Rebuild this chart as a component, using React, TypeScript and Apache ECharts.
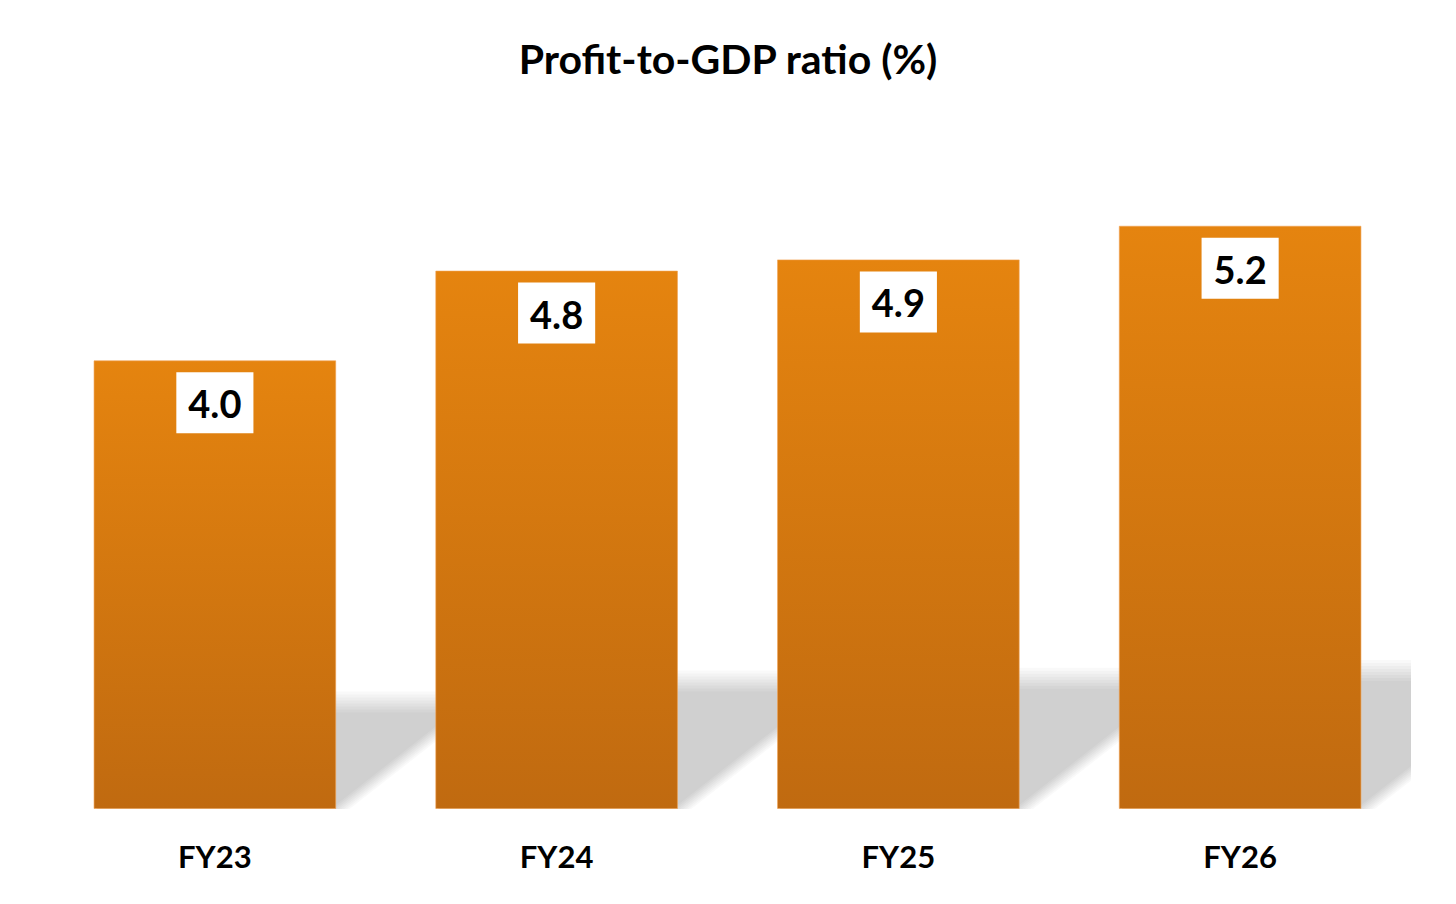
import React, { useEffect, useRef } from 'react';
import * as echarts from 'echarts';

const categories = ['FY23', 'FY24', 'FY25', 'FY26'];
const ratios = [4.0, 4.8, 4.9, 5.2];

const FONT = 'Lato, "Open Sans", sans-serif';

// soft edge for the floor shadow: several faint copies, each a little bigger
const SHADOW_LAYERS = [-9, -6, -3, 0, 3, 6, 9, 12];

const App = () => {
  const chartRef = useRef<HTMLDivElement>(null);

  useEffect(() => {
    if (!chartRef.current) return;
    const chart = echarts.init(chartRef.current, null, { renderer: 'svg' });

    const option = {
      animation: false,
      backgroundColor: '#ffffff',
      title: {
        text: 'Profit-to-GDP ratio (%)',
        left: 'center',
        top: 33,
        textStyle: { fontFamily: FONT, fontSize: 41, fontWeight: 'bold', color: '#000' }
      },
      grid: { left: 44, right: 45, top: 136, bottom: 95, containLabel: false },
      xAxis: {
        type: 'category',
        data: categories,
        axisLine: { show: false },
        axisTick: { show: false },
        axisLabel: { fontFamily: FONT, fontSize: 31, fontWeight: 'bold', color: '#000', margin: 31 }
      },
      yAxis: {
        type: 'value',
        min: 0,
        max: 6,
        show: false
      },
      series: [
        {
          // floor shadow cast behind each bar, skewed to the upper right
          type: 'custom',
          z: 1,
          silent: true,
          clip: true,
          data: ratios.map((v, i) => [i, v]),
          renderItem: (params: any, api: any) => {
            const idx = api.value(0);
            const base = api.coord([idx, 0]);
            const top = api.coord([idx, api.value(1)]);
            const bw = api.size([1, 0])[0] * 0.71;
            const L = base[0] - bw / 2;
            const R = base[0] + bw / 2;
            const B = base[1];
            const h = (B - top[1]) * 0.235;
            const skew = 1.3;
            const cs = params.coordSys;
            return {
              type: 'group',
              clipPath: { type: 'rect', shape: { x: cs.x, y: cs.y, width: cs.width + 2, height: cs.height + 3 } },
              children: SHADOW_LAYERS.map((d) => ({
                type: 'polygon',
                shape: {
                  points: [
                    [L, B + 2],
                    [R + d * 0.9, B + 2],
                    [R + d * 0.9 + skew * (h + d), B - h - d],
                    [L + skew * (h + d), B - h - d]
                  ]
                },
                style: { fill: 'rgba(0,0,0,0.025)' }
              }))
            };
          }
        },
        {
          type: 'bar',
          z: 2,
          data: ratios,
          barWidth: '71%',
          itemStyle: {
            color: new echarts.graphic.LinearGradient(0, 0, 0, 1, [
              { offset: 0, color: '#E5840F' },
              { offset: 1, color: '#C06A10' }
            ]),
            borderColor: 'rgba(240,160,80,0.6)',
            borderWidth: 1
          },
          label: {
            show: true,
            position: 'insideTop',
            distance: 12,
            formatter: (p: any) => p.value.toFixed(1),
            backgroundColor: '#ffffff',
            padding: [12, 12, 11, 12],
            fontFamily: FONT,
            fontSize: 38,
            fontWeight: 'bold',
            color: '#000'
          }
        }
      ]
    };

    chart.setOption(option as any);

    return () => {
      chart.dispose();
    };
  }, []);

  return (
    <div
      ref={chartRef}
      style={{ position: 'absolute', left: 0, top: 0, width: '1456px', height: '904px' }}
    />
  );
};

export default App;
